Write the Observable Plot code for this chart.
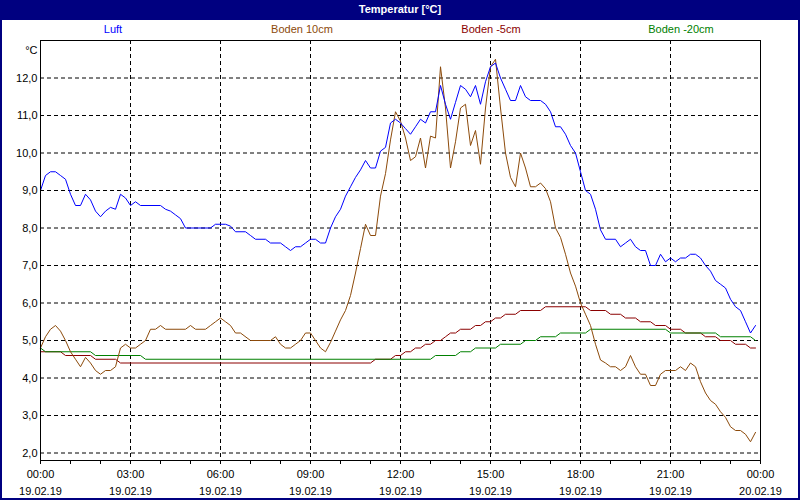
<!DOCTYPE html>
<html><head><meta charset="utf-8">
<script src="https://cdn.jsdelivr.net/npm/d3@7"></script>
<script src="https://cdn.jsdelivr.net/npm/@observablehq/plot@0.6"></script>
<style>
html,body{margin:0;padding:0;background:#fff;}
#wrap{position:relative;width:800px;height:500px;background:#fff;overflow:hidden;font-family:"Liberation Sans Narrow","Liberation Sans",sans-serif;}
#title{position:absolute;left:0;top:0;width:800px;height:20px;background:#000080;color:#fff;font:bold 11px "Liberation Sans",sans-serif;text-align:center;line-height:19px;}
#frame{position:absolute;left:0;top:0;width:800px;height:500px;box-sizing:border-box;border:2px solid #000080;border-top:none;pointer-events:none;}
.leg{position:absolute;top:23px;font-size:11px;transform:translateX(-50%);white-space:nowrap;}
#chart{position:absolute;left:0;top:20px;}
</style></head>
<body><div id="wrap"><div id="title">Temperatur [°C]</div><div id="legend"></div><div id="chart"></div><div id="frame"></div></div>
<script>
// ---- data ----
const seriesNames = ["Luft", "Boden 10cm", "Boden -5cm", "Boden -20cm"];
const seriesColors = ["#0000ff", "#8c4a0a", "#8b0000", "#008000"];
const yTicks = [2, 3, 4, 5, 6, 7, 8, 9, 10, 11, 12];
const xTicks = [0, 3, 6, 9, 12, 15, 18, 21, 24];
const timeLabels = ["00:00","03:00","06:00","09:00","12:00","15:00","18:00","21:00","00:00"];
const dateLabels = ["19.02.19","19.02.19","19.02.19","19.02.19","19.02.19","19.02.19","19.02.19","19.02.19","20.02.19"];

const luft = [["00:00",9.0],["00:10",9.4],["00:20",9.5],["00:30",9.5],["00:40",9.4],["00:50",9.3],["01:00",8.9],["01:10",8.6],["01:20",8.6],["01:30",8.9],["01:40",8.75],["01:50",8.45],["02:00",8.3],["02:10",8.45],["02:20",8.55],["02:30",8.5],["02:40",8.9],["02:50",8.8],["03:00",8.6],["03:10",8.7],["03:20",8.6],["04:00",8.6],["04:10",8.5],["04:20",8.45],["04:30",8.35],["04:40",8.25],["04:50",8.0],["05:40",8.0],["05:50",8.1],["06:10",8.1],["06:20",8.05],["06:30",7.9],["06:50",7.9],["07:00",7.8],["07:10",7.7],["07:30",7.7],["07:40",7.6],["08:00",7.6],["08:10",7.5],["08:20",7.4],["08:30",7.5],["08:40",7.5],["08:50",7.6],["09:00",7.7],["09:10",7.7],["09:20",7.6],["09:30",7.6],["09:40",8.0],["09:50",8.3],["10:00",8.5],["10:10",8.85],["10:20",9.1],["10:30",9.35],["10:40",9.55],["10:50",9.8],["11:00",9.6],["11:10",9.6],["11:20",10.05],["11:30",10.15],["11:40",10.8],["11:50",10.9],["12:00",10.8],["12:10",10.65],["12:20",10.5],["12:30",10.7],["12:40",10.9],["12:50",10.8],["13:00",11.1],["13:10",11.1],["13:20",11.8],["13:30",11.3],["13:40",10.9],["13:50",11.35],["14:00",11.8],["14:10",11.7],["14:20",11.5],["14:30",11.8],["14:40",11.3],["14:50",11.9],["15:00",12.3],["15:10",12.4],["15:20",12.0],["15:30",11.7],["15:40",11.4],["15:50",11.4],["16:00",11.8],["16:10",11.5],["16:20",11.4],["16:40",11.4],["16:50",11.3],["17:00",11.1],["17:10",10.7],["17:20",10.7],["17:30",10.5],["17:40",10.2],["17:50",10.0],["18:00",9.5],["18:10",9.0],["18:20",8.9],["18:30",8.5],["18:40",7.95],["18:50",7.7],["19:10",7.7],["19:20",7.5],["19:30",7.6],["19:40",7.7],["19:50",7.5],["20:00",7.4],["20:10",7.4],["20:20",7.0],["20:30",7.0],["20:40",7.3],["20:50",7.1],["21:00",7.2],["21:10",7.1],["21:20",7.2],["21:30",7.2],["21:40",7.3],["21:50",7.3],["22:00",7.2],["22:10",7.0],["22:20",6.85],["22:30",6.6],["22:40",6.5],["22:50",6.4],["23:00",6.1],["23:10",5.9],["23:20",5.8],["23:30",5.5],["23:40",5.2],["23:50",5.4]];

const boden10 = [["00:00",4.8],["00:10",5.1],["00:20",5.3],["00:30",5.4],["00:40",5.25],["00:50",5.0],["01:00",4.7],["01:10",4.5],["01:20",4.3],["01:30",4.55],["01:40",4.4],["01:50",4.2],["02:00",4.1],["02:10",4.2],["02:20",4.2],["02:30",4.3],["02:40",4.8],["02:50",4.9],["03:00",4.8],["03:10",4.8],["03:20",4.9],["03:30",5.0],["03:40",5.3],["03:50",5.3],["04:00",5.4],["04:10",5.3],["04:50",5.3],["05:00",5.4],["05:10",5.3],["05:30",5.3],["05:40",5.4],["05:50",5.5],["06:00",5.6],["06:10",5.5],["06:20",5.4],["06:30",5.2],["06:40",5.2],["07:00",5.0],["07:40",5.0],["07:50",5.1],["08:00",4.9],["08:10",4.8],["08:20",4.8],["08:30",4.9],["08:40",5.0],["08:50",5.2],["09:00",5.2],["09:10",5.0],["09:20",4.8],["09:30",4.7],["09:40",4.95],["09:50",5.25],["10:00",5.55],["10:10",5.8],["10:20",6.2],["10:30",6.8],["10:40",7.45],["10:50",8.1],["11:00",7.8],["11:10",7.8],["11:20",8.85],["11:30",9.45],["11:40",10.35],["11:50",11.1],["12:00",10.85],["12:10",10.4],["12:20",9.8],["12:30",9.9],["12:40",10.4],["12:50",9.6],["13:00",10.45],["13:10",10.4],["13:20",12.3],["13:30",11.2],["13:40",9.6],["13:50",10.3],["14:00",11.2],["14:10",11.3],["14:20",10.2],["14:30",10.6],["14:40",9.7],["14:50",11.2],["15:00",12.3],["15:10",12.5],["15:20",11.2],["15:30",10.0],["15:40",9.35],["15:50",9.1],["16:00",10.0],["16:10",9.6],["16:20",9.1],["16:30",9.1],["16:40",9.2],["16:50",9.05],["17:00",8.7],["17:10",8.0],["17:20",7.75],["17:30",7.3],["17:40",6.8],["17:50",6.45],["18:00",6.0],["18:10",5.7],["18:20",5.4],["18:30",4.9],["18:40",4.48],["18:50",4.4],["19:00",4.3],["19:10",4.3],["19:20",4.2],["19:30",4.3],["19:40",4.6],["19:50",4.3],["20:00",4.1],["20:10",4.1],["20:20",3.8],["20:30",3.8],["20:40",4.1],["20:50",4.2],["21:10",4.2],["21:20",4.3],["21:30",4.2],["21:40",4.4],["21:50",4.3],["22:00",3.9],["22:10",3.6],["22:20",3.4],["22:30",3.3],["22:40",3.1],["22:50",2.95],["23:00",2.7],["23:10",2.6],["23:20",2.6],["23:30",2.5],["23:40",2.3],["23:50",2.55]];

const bodenM5 = [["00:00",4.7],["00:40",4.7],["00:50",4.6],["01:40",4.6],["01:50",4.5],["02:30",4.5],["02:40",4.4],["11:00",4.4],["11:10",4.5],["11:40",4.5],["11:50",4.6],["12:00",4.6],["12:10",4.7],["12:20",4.7],["12:30",4.8],["12:40",4.8],["12:50",4.9],["13:00",4.9],["13:10",5.0],["13:20",5.0],["13:30",5.1],["13:40",5.2],["13:50",5.2],["14:00",5.3],["14:20",5.3],["14:30",5.4],["14:40",5.4],["14:50",5.5],["15:00",5.5],["15:10",5.6],["15:20",5.6],["15:30",5.7],["15:50",5.7],["16:00",5.8],["16:40",5.8],["16:50",5.9],["18:10",5.9],["18:20",5.8],["18:50",5.8],["19:00",5.7],["19:20",5.7],["19:30",5.6],["19:50",5.6],["20:00",5.5],["20:20",5.5],["20:30",5.4],["20:50",5.4],["21:00",5.3],["21:20",5.3],["21:30",5.2],["22:00",5.2],["22:10",5.1],["22:30",5.1],["22:40",5.0],["23:00",5.0],["23:10",4.9],["23:30",4.9],["23:40",4.8],["23:50",4.8]];

const bodenM20 = [["00:00",4.8],["00:10",4.7],["01:40",4.7],["01:50",4.6],["03:20",4.6],["03:30",4.5],["13:00",4.5],["13:10",4.6],["13:50",4.6],["14:00",4.7],["14:20",4.7],["14:30",4.8],["15:10",4.8],["15:20",4.9],["16:00",4.9],["16:10",5.0],["16:30",5.0],["16:40",5.1],["17:10",5.1],["17:20",5.2],["18:10",5.2],["18:20",5.3],["20:50",5.3],["21:00",5.2],["22:30",5.2],["22:40",5.1],["23:40",5.1],["23:50",5.0]];

// ---- build ----
const toRows = (arr) => arr.map(([t, v]) => { const [hh, mm] = t.split(":").map(Number); return {h: hh + mm / 60, v}; });
const seriesData = [luft, boden10, bodenM5, bodenM20].map(toRows);

// legend
const legendCenters = [113, 302, 491, 681];
const legend = document.getElementById("legend");
seriesNames.forEach((n, i) => {
  const s = document.createElement("span");
  s.className = "leg"; s.textContent = n; s.style.color = seriesColors[i]; s.style.left = legendCenters[i] + "px";
  legend.appendChild(s);
});

const drawOrder = [2, 3, 1, 0];
const chart = Plot.plot({
  width: 800, height: 480,
  marginLeft: 40, marginRight: 40, marginTop: 20, marginBottom: 40,
  style: {fontFamily: '"Liberation Sans Narrow","Liberation Sans",sans-serif', fontSize: "11px", color: "black", background: "transparent", overflow: "visible"},
  x: {domain: [0, 24]},
  y: {domain: [1.8, 13.0]},
  marks: [
    Plot.gridY(yTicks, {stroke: "black", strokeOpacity: 1, strokeDasharray: "4,3"}),
    Plot.gridX(xTicks.slice(1, -1), {stroke: "black", strokeOpacity: 1, strokeDasharray: "4,3"}),
    ...drawOrder.map(i => Plot.line(seriesData[i], {x: "h", y: "v", stroke: seriesColors[i], strokeWidth: 1})),
    Plot.frame({stroke: "black"}),
    Plot.axisY(yTicks, {tickSize: 0, tickPadding: 3, tickFormat: d => d.toFixed(1).replace(".", ","), label: null}),
    Plot.axisX(d3.range(0, 25), {tickSize: 4, tickPadding: 1, lineHeight: 1.55, label: null,
      tickFormat: h => h % 3 ? "" : timeLabels[h / 3] + "\n" + dateLabels[h / 3]}),
    Plot.text(["°C"], {frameAnchor: "top-left", dx: -3, dy: 6, textAnchor: "end"})
  ]
});
document.getElementById("chart").appendChild(chart);
</script>
</body></html>
